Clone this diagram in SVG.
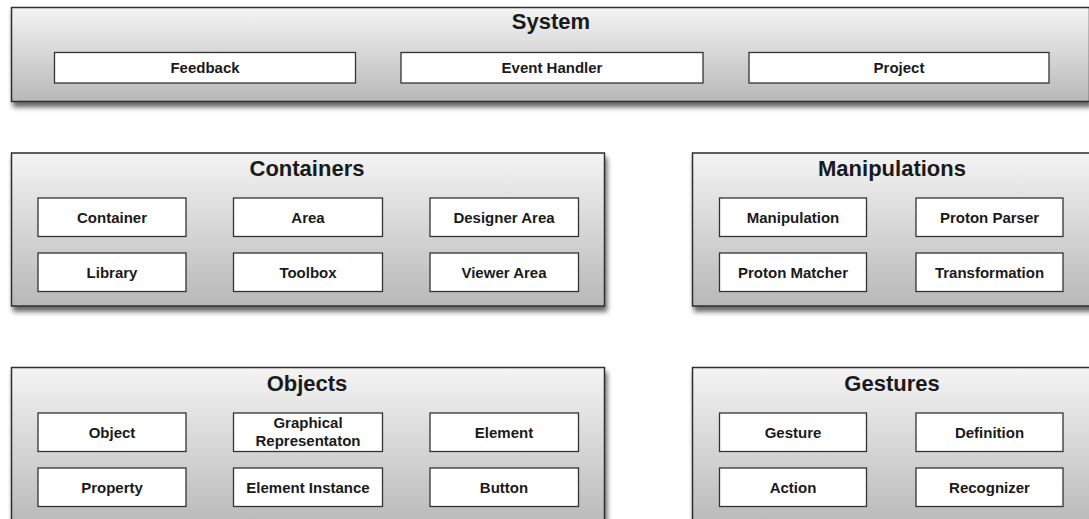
<svg xmlns="http://www.w3.org/2000/svg" width="1089" height="519" viewBox="0 0 1089 519">
  <defs>
    <linearGradient id="grp" x1="0" y1="0" x2="0" y2="1">
      <stop offset="0" stop-color="#f4f4f4"/>
      <stop offset="1" stop-color="#b8b8b8"/>
    </linearGradient>
    <filter id="shadow" x="-5%" y="-10%" width="115%" height="130%">
      <feDropShadow dx="2" dy="5" stdDeviation="2.5" flood-color="#000" flood-opacity="0.6"/>
    </filter>
    <style>
      .group { fill: url(#grp); stroke: #2e2e2e; stroke-width: 1.5; filter: url(#shadow); }
      .box { fill: #ffffff; stroke: #333333; stroke-width: 1.3; }
      .title { font-family: "Liberation Sans", Arial, Helvetica, sans-serif; font-weight: bold; font-size: 22px; fill: #1a1a1a; text-anchor: middle; }
      .label { font-family: "Liberation Sans", Arial, Helvetica, sans-serif; font-weight: bold; font-size: 15px; fill: #1a1a1a; text-anchor: middle; }
    </style>
  </defs>
  <rect width="1089" height="519" fill="#ffffff"/>

  <!-- System -->
  <g id="system">
    <rect class="group" x="11.5" y="7.5" width="1078" height="94"/>
    <text class="title" x="551" y="28.5">System</text>
    <g id="feedback">
      <rect class="box" x="54.5" y="52.5" width="301" height="30.5"/>
      <text class="label" x="205" y="73">Feedback</text>
    </g>
    <g id="event-handler">
      <rect class="box" x="401" y="52.5" width="302" height="30.5"/>
      <text class="label" x="552" y="73">Event Handler</text>
    </g>
    <g id="project">
      <rect class="box" x="749" y="52.5" width="300" height="30.5"/>
      <text class="label" x="899" y="73">Project</text>
    </g>
  </g>

  <!-- Containers -->
  <g id="containers">
    <rect class="group" x="11.5" y="153" width="593" height="153"/>
    <text class="title" x="307" y="176">Containers</text>
    <g id="container">
      <rect class="box" x="38" y="198" width="148" height="38.5"/>
      <text class="label" x="112" y="223">Container</text>
    </g>
    <g id="area">
      <rect class="box" x="233.5" y="198" width="149" height="38.5"/>
      <text class="label" x="308" y="223">Area</text>
    </g>
    <g id="designer-area">
      <rect class="box" x="430" y="198" width="148.5" height="38.5"/>
      <text class="label" x="504" y="223">Designer Area</text>
    </g>
    <g id="library">
      <rect class="box" x="38" y="253" width="148" height="38.5"/>
      <text class="label" x="112" y="278">Library</text>
    </g>
    <g id="toolbox">
      <rect class="box" x="233.5" y="253" width="149" height="38.5"/>
      <text class="label" x="308" y="278">Toolbox</text>
    </g>
    <g id="viewer-area">
      <rect class="box" x="430" y="253" width="148.5" height="38.5"/>
      <text class="label" x="504" y="278">Viewer Area</text>
    </g>
  </g>

  <!-- Manipulations -->
  <g id="manipulations">
    <rect class="group" x="692.5" y="153" width="400" height="153"/>
    <text class="title" x="892" y="176">Manipulations</text>
    <g id="manipulation">
      <rect class="box" x="719.5" y="198" width="147" height="38.5"/>
      <text class="label" x="793" y="223">Manipulation</text>
    </g>
    <g id="proton-parser">
      <rect class="box" x="916" y="198" width="147" height="38.5"/>
      <text class="label" x="989.5" y="223">Proton Parser</text>
    </g>
    <g id="proton-matcher">
      <rect class="box" x="719.5" y="253" width="147" height="38.5"/>
      <text class="label" x="793" y="278">Proton Matcher</text>
    </g>
    <g id="transformation">
      <rect class="box" x="916" y="253" width="147" height="38.5"/>
      <text class="label" x="989.5" y="278">Transformation</text>
    </g>
  </g>

  <!-- Objects -->
  <g id="objects">
    <rect class="group" x="11.5" y="367.5" width="593" height="160"/>
    <text class="title" x="307" y="391">Objects</text>
    <g id="object">
      <rect class="box" x="38" y="413" width="148" height="38.5"/>
      <text class="label" x="112" y="438">Object</text>
    </g>
    <g id="graphical-representation">
      <rect class="box" x="233.5" y="413" width="149" height="38.5"/>
      <text class="label" x="308" y="428">Graphical</text>
      <text class="label" x="308" y="445.5">Representaton</text>
    </g>
    <g id="element">
      <rect class="box" x="430" y="413" width="148.5" height="38.5"/>
      <text class="label" x="504" y="438">Element</text>
    </g>
    <g id="property">
      <rect class="box" x="38" y="468" width="148" height="38.5"/>
      <text class="label" x="112" y="493">Property</text>
    </g>
    <g id="element-instance">
      <rect class="box" x="233.5" y="468" width="149" height="38.5"/>
      <text class="label" x="308" y="493">Element Instance</text>
    </g>
    <g id="button">
      <rect class="box" x="430" y="468" width="148.5" height="38.5"/>
      <text class="label" x="504" y="493">Button</text>
    </g>
  </g>

  <!-- Gestures -->
  <g id="gestures">
    <rect class="group" x="692.5" y="367.5" width="400" height="160"/>
    <text class="title" x="892" y="391">Gestures</text>
    <g id="gesture">
      <rect class="box" x="719.5" y="413" width="147" height="38.5"/>
      <text class="label" x="793" y="438">Gesture</text>
    </g>
    <g id="definition">
      <rect class="box" x="916" y="413" width="147" height="38.5"/>
      <text class="label" x="989.5" y="438">Definition</text>
    </g>
    <g id="action">
      <rect class="box" x="719.5" y="468" width="147" height="38.5"/>
      <text class="label" x="793" y="493">Action</text>
    </g>
    <g id="recognizer">
      <rect class="box" x="916" y="468" width="147" height="38.5"/>
      <text class="label" x="989.5" y="493">Recognizer</text>
    </g>
  </g>

  <g id="connectors"/>
</svg>
